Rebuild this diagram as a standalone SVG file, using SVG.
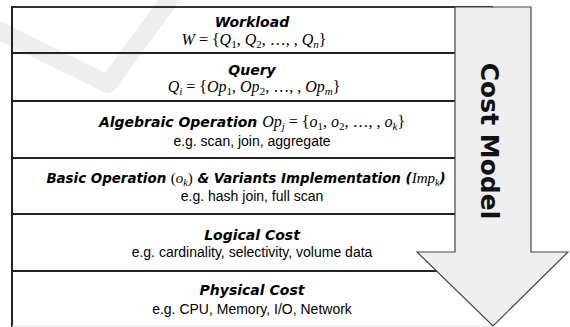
<svg xmlns="http://www.w3.org/2000/svg" width="570" height="327" viewBox="0 0 570 327">
  <style>
    .head { font-family: "DejaVu Sans", Verdana, sans-serif; font-weight: bold; font-style: italic; font-size: 14px; fill: #000; }
    .note { font-family: "Liberation Sans", Arial, sans-serif; font-size: 14px; fill: #000; }
    .math { font-family: "Liberation Serif", "Times New Roman", serif; font-size: 16px; fill: #000; }
    .v { font-style: italic; }
    .sub { font-size: 11px; }
    .row { stroke: #222; stroke-width: 2; fill: none; }
    .arrow { fill: #efefef; stroke: #444; stroke-width: 1.2; }
    .title { font-family: "DejaVu Sans", Verdana, sans-serif; font-weight: bold; font-size: 25px; fill: #111; }
    .tight .head { font-size: 13.4px; }
    .tight .math { font-size: 15px; }
    .tight .sub { font-size: 10px; }
  </style>

  <rect x="0" y="0" width="570" height="327" fill="#fff"/>

  <!-- faint background mark -->
  <path d="M -10,26 L 108,84 L 178,-12" fill="none" stroke="#eeeeee" stroke-width="18" stroke-linejoin="round" stroke-linecap="round"/>

  <!-- layer stack frame -->
  <g id="frame">
    <line x1="12" y1="7" x2="493" y2="7" stroke="#333" stroke-width="2"/>
    <line x1="12" y1="6" x2="12" y2="327" stroke="#222" stroke-width="2"/>
    <line x1="12" y1="326" x2="493" y2="326" stroke="#e4e4e4" stroke-width="1"/>
  </g>

  <g id="connectors">
    <line class="row" x1="12" y1="53" x2="455" y2="53" stroke="#000"/>
    <line class="row" x1="12" y1="101" x2="455" y2="101"/>
    <line class="row" x1="12" y1="158" x2="455" y2="158"/>
    <line class="row" x1="12" y1="214" x2="455" y2="214"/>
    <line class="row" x1="12" y1="271" x2="455" y2="271"/>
  </g>

  <g id="workload">
    <text class="head" x="252" y="27" text-anchor="middle">Workload</text>
    <text class="math" x="254" y="45" text-anchor="middle"><tspan class="v">W</tspan> = {<tspan class="v">Q</tspan><tspan class="sub" dy="3">1</tspan><tspan dy="-3">, </tspan><tspan class="v">Q</tspan><tspan class="sub" dy="3">2</tspan><tspan dy="-3">, …, , </tspan><tspan class="v">Q</tspan><tspan class="sub v" dy="3">n</tspan><tspan dy="-3">}</tspan></text>
  </g>

  <g id="query">
    <text class="head" x="252" y="75" text-anchor="middle">Query</text>
    <text class="math" x="254" y="92" text-anchor="middle"><tspan class="v">Q</tspan><tspan class="sub v" dy="3">i</tspan><tspan dy="-3"> = {</tspan><tspan class="v">Op</tspan><tspan class="sub" dy="3">1</tspan><tspan dy="-3">, </tspan><tspan class="v">Op</tspan><tspan class="sub" dy="3">2</tspan><tspan dy="-3">, …, , </tspan><tspan class="v">Op</tspan><tspan class="sub v" dy="3">m</tspan><tspan dy="-3">}</tspan></text>
  </g>

  <g id="algebraic-operation">
    <text x="252" y="127" text-anchor="middle"><tspan class="head">Algebraic Operation </tspan><tspan class="math"><tspan class="v">Op</tspan><tspan class="sub v" dy="3">j</tspan><tspan dy="-3"> = {</tspan><tspan class="v">o</tspan><tspan class="sub" dy="3">1</tspan><tspan dy="-3">, </tspan><tspan class="v">o</tspan><tspan class="sub" dy="3">2</tspan><tspan dy="-3">, …, , </tspan><tspan class="v">o</tspan><tspan class="sub v" dy="3">k</tspan><tspan dy="-3">}</tspan></tspan></text>
    <text class="note" x="252" y="146" text-anchor="middle">e.g. scan, join, aggregate</text>
  </g>

  <g id="basic-operation" class="tight">
    <text x="246" y="183" text-anchor="middle"><tspan class="head">Basic Operation </tspan><tspan class="math">(<tspan class="v">o</tspan><tspan class="sub v" dy="3">k</tspan><tspan dy="-3">)</tspan></tspan><tspan class="head" font-style="normal"> &amp; </tspan><tspan class="head">Variants Implementation </tspan><tspan class="head" font-style="normal">(</tspan><tspan class="math"><tspan class="v">Imp</tspan><tspan class="sub v" dy="3">k</tspan></tspan><tspan class="head" font-style="normal" dy="-3">)</tspan></text>
    <text class="note" x="252" y="201" text-anchor="middle">e.g. hash join, full scan</text>
  </g>

  <g id="logical-cost">
    <text class="head" x="252" y="240" text-anchor="middle">Logical Cost</text>
    <text class="note" x="252" y="257" text-anchor="middle">e.g. cardinality, selectivity, volume data</text>
  </g>

  <g id="physical-cost">
    <text class="head" x="252" y="295" text-anchor="middle">Physical Cost</text>
    <text class="note" x="252" y="314" text-anchor="middle">e.g. CPU, Memory, I/O, Network</text>
  </g>

  <g id="cost-model">
    <polygon class="arrow" points="455,7 531,7 531,252 568,252 493,326 417,252 455,252"/>
    <text class="title" transform="translate(481,141) rotate(90)" text-anchor="middle">Cost Model</text>
  </g>
</svg>
